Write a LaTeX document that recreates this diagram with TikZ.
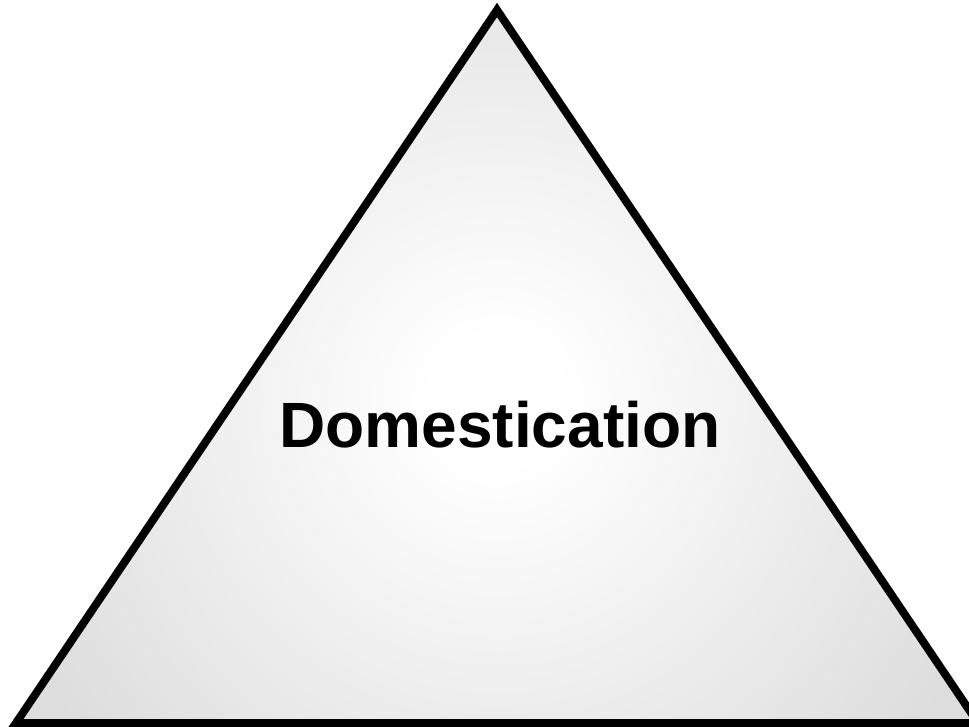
\documentclass[tikz,border=0pt]{standalone}
\usepackage{fontspec}
\setmainfont{Liberation Sans}
\pgfdeclareradialshading{trishade}{\pgfpoint{0bp}{0bp}}{color(0bp)=(white); color(3bp)=(white); color(25bp)=(gray!27); color(50bp)=(gray!27)}
\begin{document}
\begin{tikzpicture}[x=1pt,y=-1pt,
  tri/.style={draw=black,line width=8pt,line join=miter},
  lbl/.style={font=\bfseries\fontsize{64}{76}\selectfont,text=black,inner sep=0pt,anchor=base}]
\useasboundingbox (0,0) rectangle (969,727);
\coordinate (A) at (497,10);
\coordinate (L) at (16,723);
\coordinate (R) at (978,723);
\begin{scope}
\clip (A) -- (L) -- (R) -- cycle;
\fill[gray!27] (0,0) rectangle (969,727);
\shade[shading=trishade] (497,400) circle (540);
\end{scope}
\draw[tri] (A) -- (L) -- (R) -- cycle;
\node[lbl] (t) at (500,447) {Domestication};
\end{tikzpicture}
\end{document}
